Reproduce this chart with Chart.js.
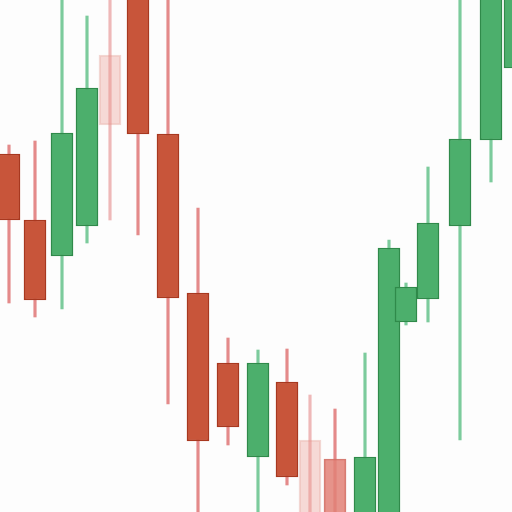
<!DOCTYPE html>
<html>
<head>
<meta charset="utf-8">
<script src="https://cdn.jsdelivr.net/npm/chart.js@4.4.1/dist/chart.umd.min.js"></script>
<style>
  html, body { margin: 0; padding: 0; background: #fdfdfd; }
  #wrap { width: 512px; height: 512px; }
</style>
</head>
<body>
<div id="wrap"><canvas id="candles" width="512" height="512"></canvas></div>
<script>
// candle data (time position, prices)
const times = [9, 35, 62, 87, 110, 138, 168, 198, 228, 258, 287, 310, 335, 365, 389, 406, 428, 460, 491, 515];
const opens = [358, 292, 256, 286, 457, 530, 378, 219, 149, 55, 130, 72, 53, -5, -5, 190, 213, 286, 372, 444];
const closes = [292, 212, 379, 424, 387, 378, 214, 71, 85, 149, 35, -5, -5, 55, 264, 225, 289, 373, 530, 540];
const highs = [367, 371, 520, 496, 520, 540, 520, 304, 174, 162, 163, 117, 103, 159, 272, 229, 345, 520, 540, 545];
const lows = [209, 195, 203, 269, 292, 277, 108, -5, 67, -5, 27, -10, -10, -10, -10, 187, 190, 72, 330, 430];

// candles drawn washed out in the picture
const fadedIdx = [4, 11];
const softIdx = [12];

function bodyFill(i) {
  const up = closes[i] >= opens[i];
  if (fadedIdx.includes(i)) return up ? 'rgba(76,175,108,0.25)' : 'rgba(232,150,140,0.35)';
  if (softIdx.includes(i)) return up ? 'rgba(76,175,108,0.6)' : 'rgba(226,128,118,0.85)';
  return up ? '#4caf6c' : '#c8553a';
}
function bodyBorder(i) {
  const up = closes[i] >= opens[i];
  if (fadedIdx.includes(i)) return up ? 'rgba(47,138,74,0.25)' : 'rgba(220,140,130,0.35)';
  if (softIdx.includes(i)) return up ? 'rgba(47,138,74,0.6)' : 'rgba(210,110,100,0.9)';
  return up ? '#2f8a4a' : '#a8381f';
}
function wickColor(i) {
  const up = closes[i] >= opens[i];
  if (fadedIdx.includes(i)) return up ? 'rgba(124,203,156,0.5)' : 'rgba(228,138,138,0.6)';
  return up ? '#7ccb9c' : '#e48a8a';
}

const bodies = times.map((t, i) => ({ x: t, y: [opens[i], closes[i]] }));
const wicks = times.map((t, i) => ({ x: t, y: [lows[i], highs[i]] }));

new Chart(document.getElementById('candles'), {
  type: 'bar',
  data: {
    datasets: [
      {
        label: 'body',
        data: bodies,
        backgroundColor: times.map((t, i) => bodyFill(i)),
        borderColor: times.map((t, i) => bodyBorder(i)),
        borderWidth: 1.5,
        borderSkipped: false,
        barThickness: 22,
        grouped: false,
        order: 1
      },
      {
        label: 'wick',
        data: wicks,
        backgroundColor: times.map((t, i) => wickColor(i)),
        borderWidth: 0,
        barThickness: 2.5,
        grouped: false,
        order: 2
      }
    ]
  },
  options: {
    responsive: false,
    animation: false,
    layout: { padding: 0 },
    plugins: {
      legend: { display: false },
      tooltip: { enabled: false }
    },
    scales: {
      x: { type: 'linear', min: 0, max: 512, offset: false, display: false },
      y: { min: 0, max: 512, display: false }
    }
  }
});
</script>
</body>
</html>
